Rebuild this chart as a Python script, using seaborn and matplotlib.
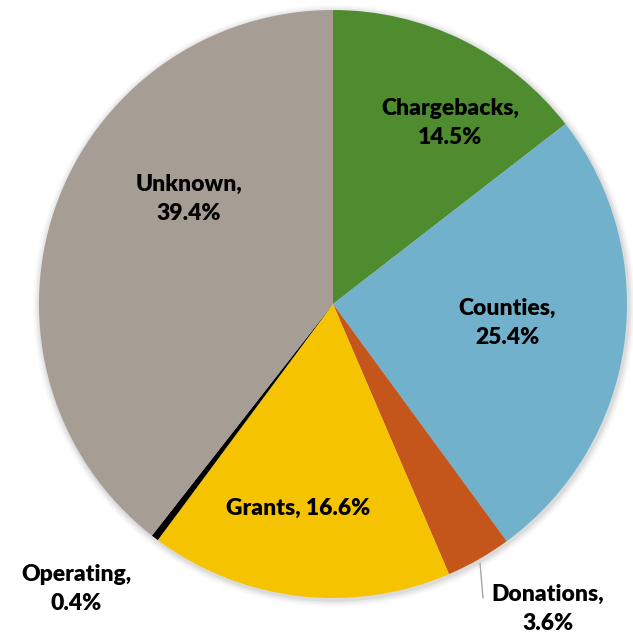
import matplotlib
matplotlib.use('Agg')
import matplotlib.pyplot as plt
import seaborn as sns
from matplotlib.patches import Circle

# data
categories = ["Chargebacks", "Counties", "Donations", "Grants", "Operating", "Unknown"]
shares = [14.5, 25.4, 3.6, 16.6, 0.4, 39.4]
colors = ["#4E8C2F", "#72B1CB", "#C4561B", "#F5C300", "#000000", "#A69D95"]

sns.set_style("white")
plt.rcParams['font.family'] = ['Lato', 'DejaVu Sans']

W, H = 633, 635
fig = plt.figure(figsize=(W / 100, H / 100), dpi=100)
ax = fig.add_axes([0, 0, 1, 1])

# pixel geometry of the pie
cx, cy, r = 333, 304, 294

# soft shadow around the pie
for k, a in enumerate([0.05, 0.04, 0.03, 0.02]):
    ax.add_patch(Circle((0.004, -0.006), 1 + 0.006 * (k + 1), color='black', alpha=a, lw=0, zorder=0))

ax.pie(shares, colors=colors, startangle=90, counterclock=False,
       radius=1, center=(0, 0), frame=True,
       wedgeprops=dict(linewidth=0, zorder=1))
ax.set_xlim(-cx / r, (W - cx) / r)
ax.set_ylim(-(H - cy) / r, cy / r)
ax.set_aspect('auto')
ax.axis('off')

# label placement in pixels (layout only)
label_px = {
    "Chargebacks": (450, 123),
    "Counties": (507, 323),
    "Donations": (548, 609),
    "Grants": (298, 508),
    "Operating": (76, 589),
    "Unknown": (189, 199),
}
one_line = {"Grants"}

for name, val in zip(categories, shares):
    px, py = label_px[name]
    x, y = (px - cx) / r, (cy - py) / r
    sep = " " if name in one_line else "\n"
    ax.text(x, y, f"{name},{sep}{val:.1f}%", ha='center', va='center',
            fontsize=16.5, fontweight='heavy', color='black', linespacing=1.45, zorder=5)

# leader line for Donations
ax.plot([(480 - cx) / r, (483 - cx) / r], [(cy - 563) / r, (cy - 598) / r],
        color='#A6A6A6', lw=1, zorder=4)

fig.savefig("out.png", dpi=100)
